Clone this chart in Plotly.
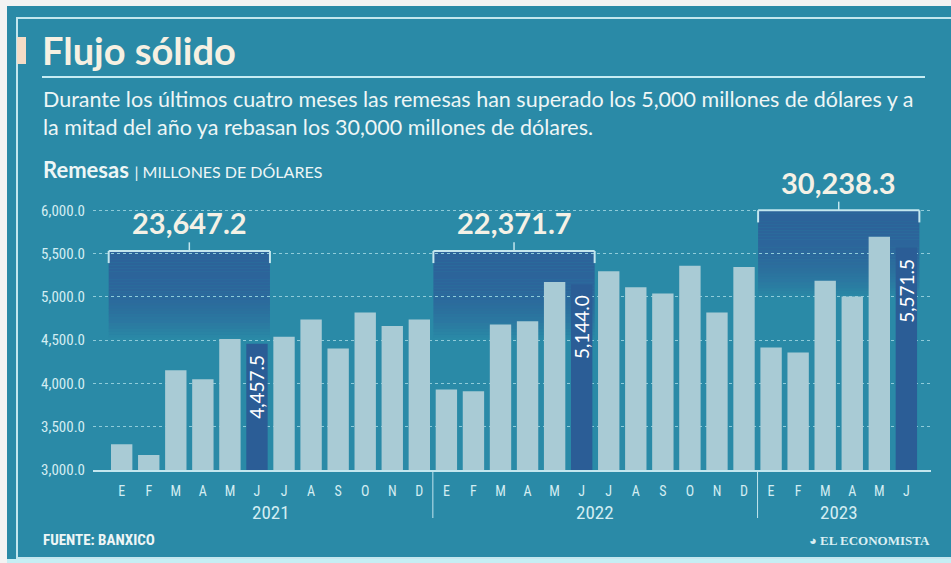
import plotly.graph_objects as go

# ---------------- data ----------------
months = ["E", "F", "M", "A", "M", "J", "J", "A", "S", "O", "N", "D"]
years = ["2021", "2022", "2023"]
remesas_2021 = [3298, 3174, 4152, 4048, 4514, 4457.5, 4540, 4739, 4403, 4819, 4663, 4739]
remesas_2022 = [3930, 3909, 4680, 4718, 5172, 5144.0, 5297, 5111, 5038, 5360, 4819, 5344]
remesas_2023 = [4416, 4356, 5187, 5003, 5693, 5571.5]
semester_totals = ["23,647.2", "22,371.7", "30,238.3"]
y_ticks = [3000, 3500, 4000, 4500, 5000, 5500, 6000]

series = [remesas_2021, remesas_2022, remesas_2023]
values = [v for s in series for v in s]
month_labels = [months[i % 12] for i in range(len(values))]
xs = list(range(len(values)))
highlight = [i for i in xs if i % 12 == 5]  # junio de cada año

# ---------------- style ----------------
BG = "#2a8aa7"
LIGHT_BAR = "#a9cbd5"
DARK_BAR = "#2b5d96"
LINE = "#c3e6ee"
TXT = "#d3edf2"
NARROW = "Liberation Sans Narrow, Roboto Condensed, DejaVu Sans Condensed, Arial Narrow, sans-serif"
GEO = "Lato, Noto Sans, sans-serif"

W, H = 951, 563
L, R, T, B = 93, 20, 180, 93
def px(x):
    return (x - L) / (W - L - R)
def py(y):
    return (H - B - y) / (H - T - B)

colors = [DARK_BAR if i in highlight else LIGHT_BAR for i in xs]

fig = go.Figure()
fig.add_trace(go.Bar(x=xs, y=values, marker=dict(color=colors, line=dict(width=0)),
                     width=0.79, hoverinfo="y", showlegend=False))

shapes = []
annotations = []

# frame & background strips
shapes.append(dict(type="rect", xref="paper", yref="paper", x0=px(-5), x1=px(960), y0=py(-5), y1=py(6),
                   fillcolor="#f3f3f3", line=dict(width=0), layer="above"))
shapes.append(dict(type="rect", xref="paper", yref="paper", x0=px(-5), x1=px(7), y0=py(-5), y1=py(570),
                   fillcolor="#f3f3f3", line=dict(width=0), layer="above"))
shapes.append(dict(type="rect", xref="paper", yref="paper", x0=px(7), x1=px(960), y0=py(559), y1=py(570),
                   fillcolor="#c6eef4", line=dict(width=0), layer="above"))
shapes.append(dict(type="rect", xref="paper", yref="paper", x0=px(17), x1=px(975), y0=py(558), y1=py(18),
                   fillcolor="rgba(0,0,0,0)", line=dict(color=LINE, width=2), layer="above"))
# title accent bar and underline
shapes.append(dict(type="rect", xref="paper", yref="paper", x0=px(17), x1=px(26), y0=py(64), y1=py(37),
                   fillcolor="#f5dcc6", line=dict(width=0), layer="above"))
shapes.append(dict(type="line", xref="paper", yref="paper", x0=px(42), x1=px(925), y0=py(77), y1=py(77),
                   line=dict(color="#c6ecf3", width=2), layer="above"))

# year separators
for k in range(1, len(years)):
    xsep = 12 * k - 0.5
    shapes.append(dict(type="line", xref="x", yref="paper", x0=xsep, x1=xsep, y0=0, y1=py(518),
                       line=dict(color=LINE, width=1), layer="above"))

# semester brackets with gradient boxes
bracket_tops = [5530, 5530, 6000]
box_depth = 1000
n_strips = 30
for g, top in enumerate(bracket_tops):
    x0 = 12 * g - 0.48
    x1 = 12 * g + 5 + 0.48
    for s in range(n_strips):
        t0 = s / n_strips
        t1 = (s + 1) / n_strips
        tm = (t0 + t1) / 2
        a = 0.78 * (1 - tm ** 3)
        shapes.append(dict(type="rect", xref="x", yref="y", x0=x0, x1=x1,
                           y0=top - box_depth * t1, y1=top - box_depth * t0,
                           fillcolor=f"rgba(45,88,150,{a:.3f})", line=dict(width=0), layer="below"))
    shapes.append(dict(type="line", xref="x", yref="y", x0=x0, x1=x1, y0=top, y1=top,
                       line=dict(color=LINE, width=2), layer="above"))
    for xe in (x0, x1):
        shapes.append(dict(type="line", xref="x", yref="y", x0=xe, x1=xe, y0=top, y1=top - 140,
                           line=dict(color=LINE, width=2), layer="above"))
    xc = (x0 + x1) / 2
    shapes.append(dict(type="line", xref="x", yref="y", x0=xc, x1=xc, y0=top, y1=top + 100,
                       line=dict(color=LINE, width=1.5), layer="above"))
    annotations.append(dict(x=xc, y=top, xref="x", yref="y", yshift=28, text=f"<b>{semester_totals[g]}</b>",
                            showarrow=False, xanchor="center", yanchor="middle",
                            font=dict(family=GEO, size=29, color="#f4f1e6")))

# labels on highlighted bars
for i in highlight:
    annotations.append(dict(x=i, y=values[i], xref="x", yref="y", yshift=-43, textangle=-90,
                            text=f"{values[i]:,.1f}", showarrow=False, xanchor="center", yanchor="middle",
                            font=dict(family=GEO, size=19, color="white")))

# year labels
for k, yr in enumerate(years):
    n = len(series[k])
    annotations.append(dict(x=12 * k + (n - 1) / 2, y=py(512), xref="x", yref="paper", text=yr,
                            showarrow=False, xanchor="center", yanchor="middle",
                            font=dict(family=NARROW, size=19, color=TXT)))

# titles
annotations.append(dict(x=px(40), y=py(50), xref="paper", yref="paper", text="<b>Flujo sólido</b>",
                        showarrow=False, xanchor="left", yanchor="middle",
                        font=dict(family=GEO, size=38, color="#f6f0e2")))
annotations.append(dict(x=px(41), y=py(99), xref="paper", yref="paper",
                        text="Durante los últimos cuatro meses las remesas han superado los 5,000 millones de dólares y a",
                        showarrow=False, xanchor="left", yanchor="middle",
                        font=dict(family=GEO, size=21.5, color="#eef6f6")))
annotations.append(dict(x=px(41), y=py(127), xref="paper", yref="paper",
                        text="la mitad del año ya rebasan los 30,000 millones de dólares.",
                        showarrow=False, xanchor="left", yanchor="middle",
                        font=dict(family=GEO, size=21.5, color="#eef6f6")))
annotations.append(dict(x=px(41), y=py(170), xref="paper", yref="paper",
                        text="<b>Remesas</b> <span style='font-size:16px'>| MILLONES DE DÓLARES</span>",
                        showarrow=False, xanchor="left", yanchor="middle",
                        font=dict(family=GEO, size=22, color="#eef6f6")))
annotations.append(dict(x=px(41), y=py(540), xref="paper", yref="paper", text="<b>FUENTE: BANXICO</b>",
                        showarrow=False, xanchor="left", yanchor="middle",
                        font=dict(family=NARROW, size=15, color="#eef6f6")))
annotations.append(dict(x=px(932), y=py(540), xref="paper", yref="paper", text="<b>◕ EL ECONOMISTA</b>",
                        showarrow=False, xanchor="right", yanchor="middle",
                        font=dict(family="Liberation Serif, DejaVu Serif, serif", size=13, color="#dbeff3")))

fig.update_layout(
    width=W, height=H,
    margin=dict(l=L, r=R, t=T, b=B, pad=0),
    paper_bgcolor=BG, plot_bgcolor="rgba(0,0,0,0)",
    shapes=shapes, annotations=annotations,
    bargap=0.2, showlegend=False,
)
fig.update_xaxes(range=[-1.06, 29.91], tickvals=xs, ticktext=month_labels, showgrid=False,
                 zeroline=False, showline=True, linecolor=LINE, linewidth=2, ticks="",
                 ticklabelstandoff=7, tickfont=dict(family=NARROW, size=14, color=TXT), fixedrange=True)
fig.update_yaxes(range=[3000, 6350], tickvals=y_ticks, tickformat=",.1f", showgrid=True,
                 gridcolor="#8fcbd9", griddash="dot", gridwidth=1, zeroline=False, showline=False,
                 ticks="", ticklabelstandoff=7, tickfont=dict(family=NARROW, size=15, color=TXT),
                 fixedrange=True)

fig.write_html("out.html", config={"displayModeBar": False},
               post_script="document.body.style.margin='0';document.body.style.padding='0';")
